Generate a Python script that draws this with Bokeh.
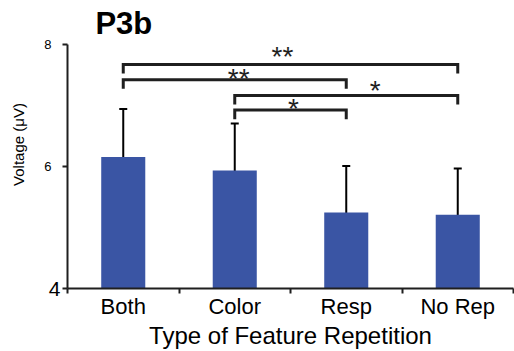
from bokeh.plotting import figure
from bokeh.models import FixedTicker, Whisker, ColumnDataSource, TeeHead, Range1d, LinearAxis
from bokeh.core.properties import value
from bokeh.embed import file_html
from bokeh.resources import INLINE

categories = ["Both", "Color", "Resp", "No Rep"]
means = [6.16, 5.94, 5.25, 5.21]
err_upper = [6.95, 6.71, 6.01, 5.97]
err_lower = [5.39, 5.17, 4.50, 4.45]
y_ticks = [4, 6, 8]

bracket_from = ["Both", "Both", "Color", "Color"]
bracket_to = ["No Rep", "Resp", "No Rep", "Resp"]
bracket_level = [7.68, 7.43, 7.17, 6.93]
bracket_label = ["**", "**", "*", "*"]

FONT = "Liberation Sans"
DARK = "#1f1f1f"
BAR = "#3a55a4"

xpos = {c: i + 1 for i, c in enumerate(categories)}
xs = [xpos[c] for c in categories]

p = figure(width=514, height=351, output_backend="svg", toolbar_location=None,
           x_range=Range1d(0.5, 4.5), y_range=Range1d(4, 8.73),
           min_border_left=67, min_border_right=1, min_border_top=0, min_border_bottom=61)
p.outline_line_color = None
p.grid.visible = False
p.background_fill_color = "white"
p.border_fill_color = "white"

src = ColumnDataSource(dict(x=xs, top=means, up=err_upper, lo=err_lower))
p.vbar(x="x", top="top", bottom=4, width=0.395, source=src, fill_color=BAR, line_color=None)

w = Whisker(base="x", upper="up", lower="lo", source=src, line_color="black", line_width=2,
            upper_head=TeeHead(size=8, line_width=2, line_color="black"),
            lower_head=TeeHead(size=8, line_width=2, line_color="black"))
p.add_layout(w)

# significance brackets
drop = 0.15
bxs, bys, smx, smy = [], [], [], []
for a, b, lvl in zip(bracket_from, bracket_to, bracket_level):
    x1, x2 = xpos[a], xpos[b]
    bxs.append([x1, x1, x2, x2])
    bys.append([lvl - drop, lvl, lvl, lvl - drop])
    smx.append((x1 + x2) / 2)
    smy.append(lvl)
p.multi_line(xs=bxs, ys=bys, line_color=DARK, line_width=3, line_join="miter")
p.text(x=smx, y=smy, text=bracket_label, x_offset=[-8, 4, 29, 3], y_offset=[-8, -1, -5, -2],
       text_font=value(FONT), text_font_size="28px", text_align="center",
       text_baseline="alphabetic", text_color=DARK)

# title
p.text(x=[0.75], y=[8.35], text=["P3b"], text_font=value(FONT), text_font_size="31px",
       text_font_style="bold", text_align="left", text_baseline="alphabetic", text_color="black")

# x axis
xa = p.xaxis[0]
xa.ticker = FixedTicker(ticks=xs, minor_ticks=[0.5, 1.5, 2.5, 3.5, 4.5])
xa.major_label_overrides = {i + 1: c for i, c in enumerate(categories)}
xa.major_tick_out = 0
xa.major_tick_in = 0
xa.minor_tick_out = 5
xa.minor_tick_in = 0
xa.minor_tick_line_width = 2
xa.minor_tick_line_color = DARK
xa.axis_line_width = 2
xa.axis_line_color = DARK
xa.major_label_text_font = FONT
xa.major_label_text_font_size = "22px"
xa.major_label_text_color = "black"
xa.major_label_standoff = 0
xa.axis_label = "Type of Feature Repetition"
xa.axis_label_text_font = FONT
xa.axis_label_text_font_size = "24px"
xa.axis_label_text_font_style = "normal"
xa.axis_label_text_color = "black"
xa.axis_label_standoff = 0

# inner y axis: line, tick marks and the large bottom label
ya = p.yaxis[0]
ya.bounds = (y_ticks[0], y_ticks[-1])
ya.ticker = FixedTicker(ticks=y_ticks, minor_ticks=[])
ya.major_label_overrides = {t: (str(t) if t == y_ticks[0] else " ") for t in y_ticks}
ya.major_tick_out = 5
ya.major_tick_in = 0
ya.major_tick_line_width = 2
ya.major_tick_line_color = DARK
ya.axis_line_width = 2
ya.axis_line_color = DARK
ya.major_label_text_font = FONT
ya.major_label_text_font_size = "21px"
ya.major_label_text_color = "black"
ya.major_label_standoff = 2

# outer y axis: the smaller labels and the axis title
ya2 = LinearAxis(ticker=FixedTicker(ticks=y_ticks[1:], minor_ticks=[]))
ya2.axis_line_color = None
ya2.major_tick_line_color = None
ya2.minor_tick_line_color = None
ya2.major_tick_out = 0
ya2.major_tick_in = 0
ya2.major_label_text_font = FONT
ya2.major_label_text_font_size = "13px"
ya2.major_label_text_color = "black"
ya2.major_label_standoff = -6
ya2.axis_label = "Voltage (μV)"
ya2.axis_label_text_font = FONT
ya2.axis_label_text_font_size = "15px"
ya2.axis_label_text_font_style = "normal"
ya2.axis_label_text_color = "black"
ya2.axis_label_standoff = 14
p.add_layout(ya2, "left")

open("out.html", "w").write(file_html(p, INLINE))
